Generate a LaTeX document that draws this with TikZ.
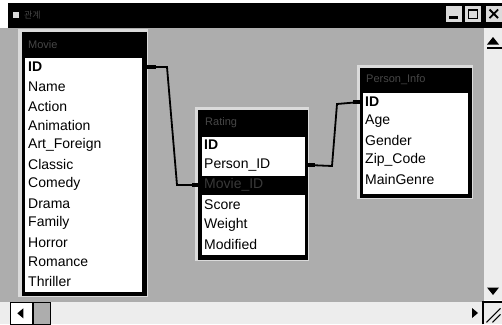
\documentclass[tikz,border=0pt]{standalone}
\usepackage{fontspec}
\setmainfont{Liberation Sans}
\newfontfamily\krfont{Noto Sans CJK KR}
\definecolor{bggray}{gray}{0.68}
\definecolor{trackgray}{gray}{0.93}
\definecolor{framegray}{gray}{0.86}
\definecolor{dimtext}{gray}{0.28}
\tikzset{
  rowtxt/.style={anchor=west, inner sep=0pt, font=\fontsize{14}{15}\selectfont},
  keytxt/.style={rowtxt, font=\fontsize{14}{15}\selectfont\bfseries},
  titletxt/.style={anchor=west, inner sep=0pt, text=dimtext, font=\fontsize{11}{12}\selectfont},
  tblbox/.style={anchor=north west, inner sep=0pt, fill=black},
  conn/.style={line width=1.8pt, black},
  stub/.style={line width=3.2pt, black},
  btn/.style={fill=framegray, draw=black, line width=0.6pt}
}
\begin{document}
\begin{tikzpicture}[x=1pt,y=-1pt]
\useasboundingbox (0,0) rectangle (502,324);
\fill[white] (0,0) rectangle (502,324);
% client area
\fill[bggray] (0,28) rectangle (484,302);
% window title bar
\fill[black] (8,3) rectangle (502,28);
\fill[framegray] (13,12) rectangle (19,18);
\node[titletxt, font=\krfont\fontsize{9}{10}\selectfont] (wtitle) at (24,15) {관계};
% title buttons
\node[btn, anchor=north west, minimum width=17pt, minimum height=17pt, inner sep=0] (bmin) at (445,5) {};
\fill[black] ([xshift=4pt,yshift=4pt]bmin.south west) rectangle ([xshift=-5pt,yshift=6.5pt]bmin.south east);
\node[btn, anchor=north west, minimum width=17pt, minimum height=17pt, inner sep=0] (bmax) at (464,5) {};
\draw[black, line width=1pt] ([xshift=4pt,yshift=-4pt]bmax.north west) rectangle ([xshift=-4pt,yshift=4pt]bmax.south east);
\draw[black, line width=2pt] ([xshift=4pt,yshift=-4.5pt]bmax.north west) -- ([xshift=-4pt,yshift=-4.5pt]bmax.north east);
\node[btn, anchor=north west, minimum width=17pt, minimum height=17pt, inner sep=0] (bclose) at (485,5) {};
\draw[black, line width=1.8pt] ([xshift=4.5pt,yshift=-4.5pt]bclose.north west) -- ([xshift=-4.5pt,yshift=4.5pt]bclose.south east)
  ([xshift=-4.5pt,yshift=-4.5pt]bclose.north east) -- ([xshift=4.5pt,yshift=4.5pt]bclose.south west);
% vertical scrollbar
\fill[trackgray] (484,28) rectangle (502,300);
\node[inner sep=0, minimum size=1pt] (vup) at (493,41) {};
\fill[black] ([shift={(-6,3.5)}]vup.center) -- ([shift={(6,3.5)}]vup.center) -- ([shift={(0,-4)}]vup.center) -- cycle;
\draw[black, line width=1.2pt] (487,48) -- (502,48);
\node[inner sep=0, minimum size=1pt] (vdown) at (493,291) {};
\fill[black] ([shift={(-6,-3.5)}]vdown.center) -- ([shift={(6,-3.5)}]vdown.center) -- ([shift={(0,4)}]vdown.center) -- cycle;
% horizontal scrollbar
\fill[trackgray] (0,302) rectangle (502,324);
\node[btn, fill=white, anchor=north west, minimum width=22pt, minimum height=22pt, inner sep=0] (hleft) at (10,302) {};
\fill[black] ([shift={(-4,0)}]hleft.center) -- ([shift={(2,-5)}]hleft.center) -- ([shift={(2,5)}]hleft.center) -- cycle;
\node[anchor=north west, fill=bggray, draw=black, line width=0.6pt, minimum width=17pt, minimum height=22pt, inner sep=0] (hthumb) at (33,302) {};
\node[inner sep=0, minimum size=1pt] (hright) at (474,313) {};
\fill[black] ([shift={(4,0)}]hright.center) -- ([shift={(-2,-5)}]hright.center) -- ([shift={(-2,5)}]hright.center) -- cycle;
% size grip
\node[anchor=north west, fill=trackgray, inner sep=0, minimum width=19pt, minimum height=22pt] (grip) at (483,302) {};
\draw[black, line width=2pt] (grip.south west) -- (grip.north west) -- (grip.north east);
\draw[black, line width=1pt] ([shift={(-10,-2)}]grip.south east) -- ([shift={(-2,-10)}]grip.south east)
  ([shift={(-16,-2)}]grip.south east) -- ([shift={(-2,-16)}]grip.south east);

% ---------- Movie table ----------
\fill[framegray] (18,29) rectangle (148,297);
\node[tblbox, minimum width=125pt, minimum height=264pt] (movie) at (22,32) {};
\fill[white] (25,58) rectangle (142,292);
\node[titletxt] (movieT) at (28,45) {Movie};
\node[keytxt]  (mID)  at (28,67) {ID};
\node[rowtxt]  (mName) at (28,86.5) {Name};
\node[rowtxt]  (mAct) at (28,106) {Action};
\node[rowtxt]  (mAni) at (28,125.5) {Animation};
\node[rowtxt]  (mArt) at (28,145) {Art\_Foreign};
\node[rowtxt]  (mCla) at (28,164.5) {Classic};
\node[rowtxt]  (mCom) at (28,184) {Comedy};
\node[rowtxt]  (mDra) at (28,203.5) {Drama};
\node[rowtxt]  (mFam) at (28,223) {Family};
\node[rowtxt]  (mHor) at (28,242.5) {Horror};
\node[rowtxt]  (mRom) at (28,262) {Romance};
\node[rowtxt]  (mThr) at (28,281.5) {Thriller};

% ---------- Rating table ----------
\fill[framegray] (195,107) rectangle (309,261);
\node[tblbox, minimum width=110pt, minimum height=150pt] (rating) at (198,110) {};
\fill[white] (202,137) rectangle (305,255);
\fill[black] (202,176) rectangle (305,195);
\node[titletxt] (ratingT) at (205,123) {Rating};
\node[keytxt] (rID)  at (204,145) {ID};
\node[rowtxt] (rPID) at (204,165) {Person\_ID};
\node[rowtxt, text=gray!45!black] (rMID) at (204,185) {Movie\_ID};
\node[rowtxt] (rSco) at (204,205) {Score};
\node[rowtxt] (rWei) at (204,224.5) {Weight};
\node[rowtxt] (rMod) at (204,244) {Modified};

% ---------- Person table ----------
\fill[framegray] (357,65) rectangle (473,199);
\node[tblbox, minimum width=112pt, minimum height=130pt] (person) at (360,68) {};
\fill[white] (363,93) rectangle (468,194);
\node[titletxt] (personT) at (366,80) {Person\_Info};
\node[keytxt] (pID)  at (365,102) {ID};
\node[rowtxt] (pAge) at (365,121) {Age};
\node[rowtxt] (pGen) at (365,140.5) {Gender};
\node[rowtxt] (pZip) at (365,160) {Zip\_Code};
\node[rowtxt] (pMG)  at (365,179.5) {MainGenre};

% ---------- connectors ----------
\draw[conn] (movie.east |- mID) -- (167,67) -- (177,185) -- (rating.west |- rMID);
\draw[stub] (movie.east |- mID) -- ++(9,0);
\draw[stub] (rating.west |- rMID) -- ++(-6,0);
\draw[conn] (rating.east |- rPID) -- (332,166) -- (337,104) -- (person.west |- pID);
\draw[stub] (rating.east |- rPID) -- ++(7,0);
\draw[stub] (person.west |- pID) -- ++(-7,0);
\end{tikzpicture}
\end{document}
